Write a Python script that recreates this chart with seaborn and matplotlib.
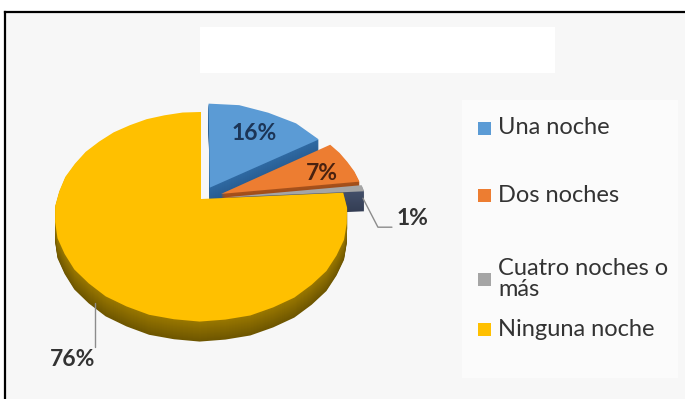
import numpy as np
import matplotlib
matplotlib.use("Agg")
import matplotlib.pyplot as plt
import seaborn as sns
from matplotlib.patches import Polygon, Rectangle
from matplotlib.colors import to_rgb

# Datos de la encuesta
categorias = ["Una noche", "Dos noches", "Cuatro noches o más", "Ninguna noche"]
etiquetas_leyenda = ["Una noche", "Dos noches", "Cuatro noches o\nmás", "Ninguna noche"]
porcentajes = [16, 7, 1, 76]

sns.set_theme(style="white")
plt.rcParams["font.family"] = ["Lato", "DejaVu Sans"]

colores_cara = sns.color_palette(["#5B9BD5", "#ED7D31", "#A5A5A5", "#FFC000"])
colores_lado = ["#2F6AA3", "#A8521C", "#44506A", "#9A7800"]
colores_lado_osc = ["#24568A", "#8A3F12", "#343E55", "#6E5600"]
separacion = [0.13, 0.15, 0.15, 0.0]
color_etiqueta = ["#1C3557", "#4A2210", "#333333", "#333333"]

fig = plt.figure(figsize=(6.85, 3.99), dpi=100)
fig.patch.set_facecolor("white")
ax = fig.add_axes([0, 0, 1, 1])

wedges, _ = ax.pie(porcentajes, startangle=90, counterclock=False,
                   explode=separacion, colors=colores_cara,
                   wedgeprops=dict(linewidth=0))

# Vista inclinada del disco (proyección en perspectiva, en píxeles)
CX, CY = 201, 199
A, B, C = 101.6, 144.0, 0.1675
PROF = 20


def proyectar(p):
    p = np.atleast_2d(p)
    d = 1 + C * p[:, 1]
    return np.column_stack([CX + B * p[:, 0] / d, CY - A * p[:, 1] / d])


def mezcla(c1, c2, t):
    a, b = np.array(to_rgb(c1)), np.array(to_rgb(c2))
    return tuple(a + (b - a) * t)


# fondo del área del gráfico
ax.add_patch(Rectangle((5, 12), 700, 400, facecolor="#F7F7F7", edgecolor="none", zorder=0))
ax.add_patch(Rectangle((200, 27), 355, 46, facecolor="white", edgecolor="none", zorder=0.5))
ax.add_patch(Rectangle((462, 100), 216, 278, facecolor="#FBFBFB", edgecolor="none", zorder=0.5))
ax.plot([5, 5], [400, 12], color="black", lw=1.6, zorder=1, solid_capstyle="projecting")
ax.plot([5, 700], [12, 12], color="black", lw=1.6, zorder=1, solid_capstyle="projecting")

poligonos = []
for w in wedges:
    path = w.get_path()
    trans = w.get_patch_transform()
    polys = [proyectar(trans.transform(p)) for p in path.to_polygons()]
    poligonos.append(polys)
    w.remove()

# caras laterales
for i, polys in enumerate(poligonos):
    for off in range(PROF, 0, -1):
        col = mezcla(colores_lado[i], colores_lado_osc[i], off / PROF)
        for p in polys:
            ax.add_patch(Polygon(p + [0, off], closed=True, facecolor=col,
                                 edgecolor="none", zorder=2))

# caras superiores
for i, polys in enumerate(poligonos):
    for p in polys:
        ax.add_patch(Polygon(p, closed=True, facecolor=colores_cara[i],
                             edgecolor="none", zorder=3))


def medio(w):
    return np.deg2rad((w.theta1 + w.theta2) / 2)


def punto(w, frac, r):
    a = np.deg2rad(w.theta1 + frac * (w.theta2 - w.theta1))
    return proyectar(np.array(w.center) + r * np.array([np.cos(a), np.sin(a)]))[0]


# etiquetas interiores
for i, frac, r in [(0, 0.48, 0.70), (1, 0.34, 0.76)]:
    pos = punto(wedges[i], frac, r)
    ax.text(pos[0], pos[1], f"{porcentajes[i]}%", ha="center", va="center",
            fontsize=16.5, fontweight="bold", color=color_etiqueta[i], zorder=5)

# etiqueta con línea guía: 1 %
p0 = punto(wedges[2], 0.5, 1.0) + [0, 10]
p1 = p0 + [15, 29]
p2 = p1 + [14, 0]
ax.plot([p0[0], p1[0], p2[0]], [p0[1], p1[1], p2[1]], color="#8C8C8C", lw=1, zorder=4)
ax.text(p2[0] + 5, p2[1] - 9, f"{porcentajes[2]}%", ha="left", va="center",
        fontsize=16.5, fontweight="bold", color=color_etiqueta[2], zorder=5)

# etiqueta con línea guía: 76 %
q0 = punto(wedges[3], 0.5, 1.0) + [6, PROF]
q1 = q0 + [0, 44]
ax.plot([q0[0], q1[0]], [q0[1], q1[1]], color="#8C8C8C", lw=1, zorder=4)
ax.text(q1[0] + 1, q1[1] + 12, f"{porcentajes[3]}%", ha="right", va="center",
        fontsize=16.5, fontweight="bold", color=color_etiqueta[3], zorder=5)

# leyenda
filas_y = [128, 195, 279, 329]
for i, (txt, y) in enumerate(zip(etiquetas_leyenda, filas_y)):
    ax.add_patch(Rectangle((478, y - 6), 13, 13, facecolor=colores_cara[i],
                           edgecolor="none", zorder=5))
    ax.text(498, y, txt, ha="left", va="center", fontsize=17, color="#333333",
            linespacing=1.0, zorder=5)

ax.set_aspect("auto")
ax.set_xlim(0, 685)
ax.set_ylim(399, 0)
ax.axis("off")

fig.savefig("out.png", dpi=100, facecolor="white")
